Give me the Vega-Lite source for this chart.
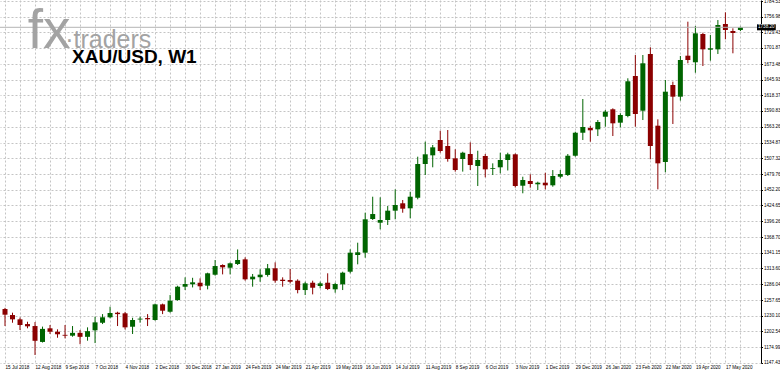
{
"$schema": "https://vega.github.io/schema/vega-lite/v6.json",
"width": 761,
"height": 363,
"autosize": {"type": "none"},
"padding": {"left": 0, "top": 0, "right": 19, "bottom": 11},
"background": "white",
"config": {
  "view": {"stroke": null},
  "font": "Liberation Sans",
  "axisY": {"labelOverlap": false, "labelFlush": false, "labelBound": false},
  "axisX": {"labelOverlap": false, "labelFlush": false, "labelBound": false}
},
"datasets": {"gold": [
{"d":"2018-07-15","o":1242,"h":1244,"l":1212,"c":1232},
{"d":"2018-07-22","o":1231.4,"h":1235.5,"l":1217.8,"c":1223.8},
{"d":"2018-07-29","o":1223.8,"h":1227,"l":1205,"c":1213.8},
{"d":"2018-08-05","o":1215.5,"h":1219.6,"l":1208,"c":1211.5},
{"d":"2018-08-12","o":1212,"h":1219,"l":1161,"c":1186},
{"d":"2018-08-19","o":1184,"h":1211,"l":1183,"c":1207},
{"d":"2018-08-26","o":1208,"h":1213.8,"l":1198,"c":1202},
{"d":"2018-09-02","o":1202,"h":1206.2,"l":1191.4,"c":1197.5},
{"d":"2018-09-09","o":1196.5,"h":1213.8,"l":1190.3,"c":1195},
{"d":"2018-09-16","o":1195,"h":1212,"l":1193.2,"c":1200},
{"d":"2018-09-23","o":1200,"h":1205,"l":1180,"c":1193},
{"d":"2018-09-30","o":1193,"h":1209.7,"l":1186.2,"c":1203},
{"d":"2018-10-07","o":1204.5,"h":1228.5,"l":1182,"c":1218.5},
{"d":"2018-10-14","o":1217.8,"h":1233,"l":1215.5,"c":1227.4},
{"d":"2018-10-21","o":1227.4,"h":1246,"l":1225.6,"c":1235},
{"d":"2018-10-28","o":1235.5,"h":1237.2,"l":1212,"c":1233},
{"d":"2018-11-04","o":1234.4,"h":1237,"l":1206,"c":1209.7},
{"d":"2018-11-11","o":1210.8,"h":1226.6,"l":1198,"c":1222.6},
{"d":"2018-11-18","o":1223.5,"h":1228.4,"l":1218,"c":1225},
{"d":"2018-11-25","o":1226.1,"h":1233,"l":1212,"c":1223.9},
{"d":"2018-12-02","o":1222.6,"h":1251.5,"l":1221.4,"c":1250.2},
{"d":"2018-12-09","o":1250.2,"h":1251.5,"l":1233,"c":1239},
{"d":"2018-12-16","o":1237.2,"h":1266.6,"l":1235.5,"c":1256.6},
{"d":"2018-12-23","o":1257.8,"h":1283,"l":1256.6,"c":1281.3},
{"d":"2018-12-30","o":1281.3,"h":1297.8,"l":1275.4,"c":1286},
{"d":"2019-01-06","o":1285.5,"h":1297,"l":1280,"c":1289},
{"d":"2019-01-13","o":1288.3,"h":1296,"l":1275.4,"c":1282},
{"d":"2019-01-20","o":1283.1,"h":1306,"l":1276.6,"c":1304.9},
{"d":"2019-01-27","o":1302.4,"h":1328.3,"l":1300.7,"c":1317.7},
{"d":"2019-02-03","o":1319.5,"h":1320.7,"l":1303,"c":1315.4},
{"d":"2019-02-10","o":1314.7,"h":1324,"l":1303,"c":1322.5},
{"d":"2019-02-17","o":1321.3,"h":1347,"l":1319.5,"c":1328.3},
{"d":"2019-02-24","o":1329.5,"h":1333,"l":1291.9,"c":1294.3},
{"d":"2019-03-03","o":1294.3,"h":1303.7,"l":1281.3,"c":1299},
{"d":"2019-03-10","o":1298,"h":1311.9,"l":1290,"c":1302.5},
{"d":"2019-03-17","o":1302,"h":1321.3,"l":1299,"c":1313.7},
{"d":"2019-03-24","o":1313.7,"h":1324.2,"l":1288.3,"c":1291.9},
{"d":"2019-03-31","o":1293.6,"h":1297.8,"l":1281.3,"c":1291.3},
{"d":"2019-04-07","o":1293,"h":1312.4,"l":1287,"c":1290},
{"d":"2019-04-14","o":1291.9,"h":1294.3,"l":1269.6,"c":1275.4},
{"d":"2019-04-21","o":1275.4,"h":1290,"l":1266.6,"c":1287.2},
{"d":"2019-04-28","o":1288.3,"h":1291.9,"l":1267.8,"c":1279.5},
{"d":"2019-05-05","o":1282.5,"h":1290.1,"l":1278.4,"c":1287.2},
{"d":"2019-05-12","o":1288.3,"h":1304.9,"l":1275.4,"c":1277.2},
{"d":"2019-05-19","o":1276.7,"h":1288.3,"l":1270.7,"c":1286},
{"d":"2019-05-26","o":1285.5,"h":1307.7,"l":1275.4,"c":1306},
{"d":"2019-06-02","o":1307.7,"h":1347.1,"l":1304.9,"c":1341.2},
{"d":"2019-06-09","o":1337.1,"h":1358.8,"l":1320.7,"c":1341.9},
{"d":"2019-06-16","o":1341.2,"h":1411.6,"l":1332.4,"c":1400},
{"d":"2019-06-23","o":1400.5,"h":1439.8,"l":1398.8,"c":1409.3},
{"d":"2019-06-30","o":1394,"h":1438.7,"l":1382.4,"c":1398.8},
{"d":"2019-07-07","o":1398.8,"h":1423.4,"l":1390,"c":1415.2},
{"d":"2019-07-14","o":1415.2,"h":1452.8,"l":1400,"c":1425.2},
{"d":"2019-07-21","o":1428.2,"h":1434,"l":1411.6,"c":1418.7},
{"d":"2019-07-28","o":1419.4,"h":1448.6,"l":1401.8,"c":1439.8},
{"d":"2019-08-04","o":1438,"h":1510.3,"l":1435.2,"c":1497.4},
{"d":"2019-08-11","o":1497.4,"h":1536.7,"l":1478,"c":1514.5},
{"d":"2019-08-18","o":1512.7,"h":1530.9,"l":1491.6,"c":1526.8},
{"d":"2019-08-25","o":1539.7,"h":1556,"l":1517.3,"c":1520.3},
{"d":"2019-09-01","o":1529.1,"h":1557.3,"l":1501.5,"c":1506.2},
{"d":"2019-09-08","o":1507.4,"h":1523.3,"l":1483.9,"c":1486.8},
{"d":"2019-09-15","o":1506.2,"h":1519,"l":1484,"c":1517.3},
{"d":"2019-09-22","o":1515,"h":1535.6,"l":1486.8,"c":1495.6},
{"d":"2019-09-29","o":1493.9,"h":1520.8,"l":1458.7,"c":1504.5},
{"d":"2019-10-06","o":1511.5,"h":1515,"l":1474,"c":1488},
{"d":"2019-10-13","o":1488.6,"h":1498.6,"l":1478,"c":1490},
{"d":"2019-10-20","o":1491.6,"h":1517.3,"l":1481,"c":1504.5},
{"d":"2019-10-27","o":1504.5,"h":1517.3,"l":1486,"c":1514.5},
{"d":"2019-11-03","o":1514.5,"h":1516,"l":1456,"c":1458.7},
{"d":"2019-11-10","o":1459.2,"h":1475,"l":1445.8,"c":1469.2},
{"d":"2019-11-17","o":1467.5,"h":1479.3,"l":1455.7,"c":1462.2},
{"d":"2019-11-24","o":1461.7,"h":1466.3,"l":1451.6,"c":1464.5},
{"d":"2019-12-01","o":1464.5,"h":1482,"l":1452.8,"c":1459.9},
{"d":"2019-12-08","o":1459.9,"h":1486.8,"l":1457.4,"c":1476.3},
{"d":"2019-12-15","o":1475,"h":1486.8,"l":1472.2,"c":1479.8},
{"d":"2019-12-22","o":1478,"h":1515,"l":1476.3,"c":1512},
{"d":"2019-12-29","o":1512,"h":1554.3,"l":1510.3,"c":1552.5},
{"d":"2020-01-05","o":1552.5,"h":1611.9,"l":1539.7,"c":1562.6},
{"d":"2020-01-12","o":1560.8,"h":1564.3,"l":1536.7,"c":1556.8},
{"d":"2020-01-19","o":1558.5,"h":1574.9,"l":1546.7,"c":1571.4},
{"d":"2020-01-26","o":1580.7,"h":1592.5,"l":1563.1,"c":1589.6},
{"d":"2020-02-02","o":1593.8,"h":1595.5,"l":1546.7,"c":1569.1},
{"d":"2020-02-09","o":1570.2,"h":1586.7,"l":1562,"c":1583.7},
{"d":"2020-02-16","o":1582,"h":1648.4,"l":1579.7,"c":1643.1},
{"d":"2020-02-23","o":1652.4,"h":1689.4,"l":1563.1,"c":1585.5},
{"d":"2020-03-01","o":1591.3,"h":1689.4,"l":1574.9,"c":1674.8},
{"d":"2020-03-08","o":1691.2,"h":1703,"l":1505.7,"c":1529.1},
{"d":"2020-03-15","o":1564.9,"h":1576.1,"l":1452.8,"c":1498.6},
{"d":"2020-03-22","o":1500.9,"h":1645.4,"l":1482.8,"c":1624.8},
{"d":"2020-03-29","o":1636.6,"h":1642.4,"l":1567.9,"c":1616},
{"d":"2020-04-05","o":1616,"h":1687.7,"l":1609,"c":1680.6},
{"d":"2020-04-12","o":1688.2,"h":1748.1,"l":1674.8,"c":1680.6},
{"d":"2020-04-19","o":1676.6,"h":1740.5,"l":1658.2,"c":1727.6},
{"d":"2020-04-26","o":1726.4,"h":1728.7,"l":1670,"c":1699.4},
{"d":"2020-05-03","o":1698.8,"h":1724.6,"l":1679.4,"c":1701.2},
{"d":"2020-05-10","o":1699.4,"h":1751,"l":1691.2,"c":1742.3},
{"d":"2020-05-17","o":1744,"h":1764.6,"l":1717.1,"c":1733.5},
{"d":"2020-05-24","o":1731.7,"h":1736.4,"l":1692.4,"c":1728.2},
{"d":"2020-05-31","o":1733.5,"h":1739.5,"l":1731.5,"c":1738.2}
], "one": [{"k": 1}]},
"data": {"name": "gold"},
"layer": [
  {
    "mark": {"type": "rule", "strokeWidth": 1},
    "encoding": {
      "x": {"field": "d", "type": "temporal",
        "scale": {"type": "utc", "domain": [1531612800000, 1592140500000]},
        "axis": {"title": null, "orient": "bottom", "tickCount": 500,
          "values": [1531612800000,1532822400000,1534032000000,1535241600000,1536451200000,1537660800000,1538870400000,1540080000000,1541289600000,1542499200000,1543708800000,1544918400000,1546128000000,1547337600000,1548547200000,1549756800000,1550966400000,1552176000000,1553385600000,1554595200000,1555804800000,1557014400000,1558224000000,1559433600000,1560643200000,1561852800000,1563062400000,1564272000000,1565481600000,1566691200000,1567900800000,1569110400000,1570320000000,1571529600000,1572739200000,1573948800000,1575158400000,1576368000000,1577577600000,1578787200000,1579996800000,1581206400000,1582416000000,1583625600000,1584835200000,1586044800000,1587254400000,1588464000000,1589673600000,1590883200000],
          "labelExpr": "round((datum.value - 1531612800000) / 1209600000) % 2 == 0 ? utcFormat(datum.value, '%-d %b %Y') : ''",
          "labelAlign": "left", "labelBaseline": "top", "labelPadding": 1, "labelFontSize": 4.6, "labelColor": "#000000",
          "labelOverlap": false, "labelFlush": false, "labelBound": false,
          "ticks": false, "domain": false,
          "grid": true, "gridDash": [2, 2], "gridColor": "#c4c4c4", "gridWidth": 1}},
      "y": {"field": "l", "type": "quantitative",
        "scale": {"domain": [1146.9, 1786.3], "nice": false, "zero": false},
        "axis": {"title": null, "orient": "right", "tickCount": 500,
          "values": [1147.43,1174.99,1202.54,1230.10,1257.65,1286.04,1313.60,1341.15,1368.70,1396.26,1424.65,1452.20,1479.76,1507.32,1534.87,1563.26,1590.83,1618.37,1645.93,1673.48,1701.87,1729.43,1756.98,1784.53],
          "format": ".2f", "labelFontSize": 4.6, "labelColor": "#000000", "labelPadding": 1, "tickSize": 1.5, "tickColor": "#000000",
          "labelOverlap": false, "labelFlush": false, "labelBound": false,
          "domain": true, "domainColor": "#000000", "domainWidth": 1,
          "grid": true, "gridDash": [2, 2], "gridColor": "#c4c4c4", "gridWidth": 1}},
      "y2": {"field": "h"},
      "color": {"condition": {"test": "datum.c >= datum.o", "value": "#006400"}, "value": "#8b0000"}
    }
  },
  {
    "mark": {"type": "bar", "width": 5},
    "encoding": {
      "x": {"field": "d", "type": "temporal"},
      "y": {"field": "o", "type": "quantitative"},
      "y2": {"field": "c"},
      "color": {"condition": {"test": "datum.c >= datum.o", "value": "#006400"}, "value": "#8b0000"}
    }
  },
  {
    "data": {"name": "one"},
    "mark": {"type": "rule", "color": "#b4b4b4", "strokeWidth": 1},
    "encoding": {"y": {"datum": 1738.2, "type": "quantitative"}}
  },
  {
    "data": {"name": "one"},
    "mark": {"type": "rect", "color": "#000000", "clip": false},
    "encoding": {
      "x": {"datum": {"year": 2020, "month": 6, "date": 15, "hours": 12, "utc": true}, "type": "temporal"},
      "x2": {"datum": {"year": 2020, "month": 7, "date": 3, "utc": true}},
      "y": {"datum": 1743.5, "type": "quantitative"},
      "y2": {"datum": 1732.9}
    }
  },
  {
    "data": {"name": "one"},
    "mark": {"type": "text", "text": "1738.20", "color": "#ffffff", "fontSize": 4.6, "align": "left", "baseline": "middle", "clip": false},
    "encoding": {
      "x": {"datum": {"year": 2020, "month": 6, "date": 16, "hours": 10, "utc": true}, "type": "temporal"},
      "y": {"datum": 1738.2, "type": "quantitative"}
    }
  },
  {
    "data": {"name": "one"},
    "mark": {"type": "text", "text": "fx", "color": "#a3a3a3", "fontSize": 55, "align": "left", "baseline": "alphabetic"},
    "encoding": {
      "x": {"datum": {"year": 2018, "month": 8, "date": 5, "hours": 5, "utc": true}, "type": "temporal"},
      "y": {"datum": 1701.7, "type": "quantitative"}
    }
  },
  {
    "data": {"name": "one"},
    "mark": {"type": "text", "text": "·traders", "color": "#a3a3a3", "fontSize": 25, "align": "left", "baseline": "alphabetic"},
    "encoding": {
      "x": {"datum": {"year": 2018, "month": 9, "date": 9, "hours": 4, "utc": true}, "type": "temporal"},
      "y": {"datum": 1701.7, "type": "quantitative"}
    }
  },
  {
    "data": {"name": "one"},
    "mark": {"type": "text", "text": "XAU/USD, W1", "color": "#000000", "fontSize": 19, "fontWeight": "bold", "align": "left", "baseline": "alphabetic"},
    "encoding": {
      "x": {"datum": {"year": 2018, "month": 9, "date": 15, "hours": 14, "utc": true}, "type": "temporal"},
      "y": {"datum": 1675.3, "type": "quantitative"}
    }
  }
]
}
